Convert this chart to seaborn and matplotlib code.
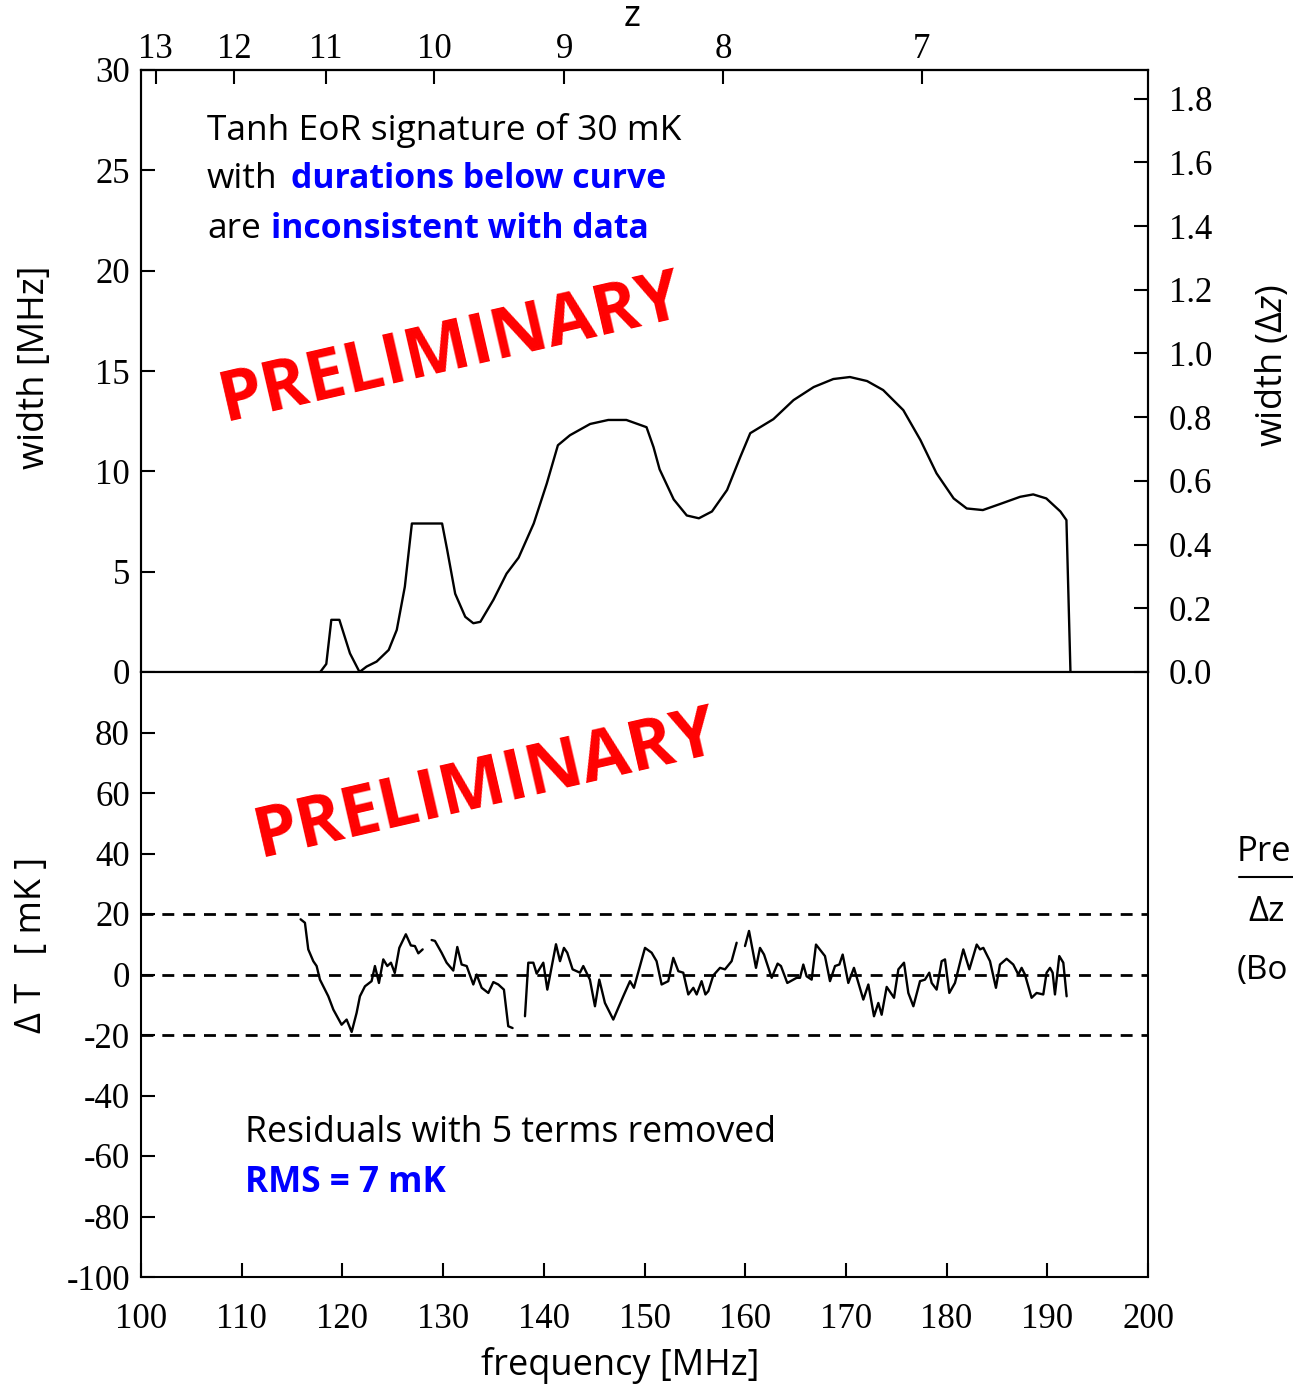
import numpy as np
import pandas as pd
import seaborn as sns
import matplotlib.pyplot as plt
from matplotlib.lines import Line2D

# top panel: minimum excluded tanh width vs frequency
width_freq = [117.8, 118.4, 118.9, 119.7, 120.75, 121.7, 122.4, 123.4, 124.6, 125.4,
              126.2, 126.9, 129.9, 130.4, 131.2, 132.2, 133.0, 133.7, 135.0, 136.3,
              137.5, 139.0, 140.3, 141.4, 142.6, 144.6, 146.4, 148.2, 150.2, 150.9,
              151.5, 152.9, 154.2, 155.4, 156.7, 158.2, 159.5, 160.5, 162.8, 164.8,
              166.8, 168.75, 170.4, 172.1, 173.7, 175.7, 177.4, 179.0, 180.7, 182.0,
              183.6, 185.3, 187.3, 188.6, 189.9, 191.3, 191.9, 192.3]
width_mhz = [0, 0.4, 2.6, 2.6, 0.93, 0, 0.27, 0.52, 1.1, 2.1,
             4.25, 7.4, 7.4, 6.1, 3.9, 2.75, 2.43, 2.5, 3.6, 4.9,
             5.7, 7.4, 9.4, 11.3, 11.8, 12.36, 12.56, 12.56, 12.2, 11.2,
             10.1, 8.6, 7.8, 7.66, 8.0, 9.07, 10.7, 11.9, 12.6, 13.55,
             14.2, 14.6, 14.7, 14.5, 14.05, 13.05, 11.56, 9.9, 8.65, 8.15,
             8.07, 8.37, 8.73, 8.85, 8.65, 8.0, 7.57, 0]

# bottom panel: residuals, in four pieces (gaps between them)
res_freq_a = [115.85, 116.28, 116.61, 117.11, 117.44, 117.77, 118.6, 119.1, 119.92, 120.42,
              120.92, 121.41, 121.74, 122.24, 122.9, 123.23, 123.63, 124.06, 124.46, 124.82,
              125.2, 125.65, 126.3, 126.8, 127.2, 127.54, 127.97]
res_mk_a = [18.25, 17.1, 8.3, 4.4, 2.8, -1.7, -7.2, -11.6, -16.6, -14.9,
            -19.0, -12.7, -7.2, -3.9, -2.2, 2.8, -2.8, 5.0, 2.8, 3.9,
            0.5, 8.8, 13.3, 9.6, 9.4, 7.0, 8.3]
res_freq_b = [128.86, 129.19, 129.85, 130.35, 131.01, 131.41, 131.84, 132.34, 133.0, 133.33,
              133.83, 134.49, 134.99, 135.48, 136.04, 136.47, 136.9]
res_mk_b = [11.4, 11.1, 7.2, 3.9, 1.3, 9.1, 3.3, 2.8, -3.3, 0.0,
            -4.4, -6.1, -2.5, -3.3, -5.0, -17.1, -17.7]
res_freq_c = [138.13, 138.46, 138.96, 139.29, 139.95, 140.35, 141.21, 141.61, 142.0, 142.33,
              142.86, 143.59, 143.92, 144.58, 145.08, 145.51, 146.07, 146.9, 147.89, 148.56,
              148.95, 150.05, 150.71, 151.2, 151.7, 152.36, 152.86, 153.36, 153.85, 154.35,
              154.85, 155.18, 155.67, 156.05, 156.34, 156.83, 157.5, 157.99, 158.65, 159.15]
res_mk_c = [-13.8, 3.9, 3.9, 0.3, 3.9, -5.0, 10.0, 4.4, 8.8, 7.2,
            1.7, 0.6, 2.8, -1.7, -10.5, -1.7, -9.4, -14.9, -7.2, -2.2,
            -4.4, 8.8, 7.2, 4.4, -3.3, -2.2, 5.5, 1.1, 0.6, -6.6,
            -4.4, -6.6, -2.2, -6.6, -5.5, -0.3, 2.2, 1.7, 4.4, 10.5]
res_freq_d = [159.98, 160.38, 161.07, 161.47, 161.87, 162.63, 163.22, 163.55, 164.18, 165.11,
              165.44, 165.77, 166.1, 166.6, 167.03, 167.92, 168.42, 168.92, 169.35, 169.68,
              170.24, 170.8, 171.73, 172.23, 172.79, 173.22, 173.55, 174.05, 174.78, 175.21,
              175.77, 176.2, 176.7, 177.36, 177.85, 178.28, 178.52, 179.01, 179.51, 179.84,
              180.27, 180.83, 181.66, 182.26, 182.99, 183.32, 183.65, 184.31, 184.9, 185.3,
              185.96, 186.62, 187.12, 187.45, 187.78, 188.44, 188.94, 189.6, 189.93, 190.27,
              190.53, 190.76, 191.19, 191.59, 191.92]
res_mk_d = [9.4, 14.4, 2.2, 8.8, 6.6, -1.1, 3.6, 2.8, -2.8, -1.1,
            -1.1, 3.3, -0.6, -1.7, 9.9, 6.1, -2.2, 2.8, 3.3, 6.6,
            -2.8, 2.2, -8.3, -3.3, -13.8, -9.4, -13.3, -4.1, -7.7, 1.7,
            3.9, -6.1, -10.5, -2.2, -1.7, 0.6, -2.8, -5.0, 4.4, 5.0,
            -6.1, -2.8, 8.3, 1.7, 9.9, 8.3, 8.8, 4.4, -4.4, 3.3,
            5.2, 3.3, 0.0, 2.2, 0.0, -7.7, -6.1, -6.6, 0.6, 2.2,
            0.6, -6.6, 6.1, 3.9, -7.2]

z_ticks = [13, 12, 11, 10, 9, 8, 7]
dz_ticks = [0.0, 0.2, 0.4, 0.6, 0.8, 1.0, 1.2, 1.4, 1.6, 1.8]
width_ticks = [0, 5, 10, 15, 20, 25, 30]
dt_ticks = [-100, -80, -60, -40, -20, 0, 20, 40, 60, 80]
freq_ticks = [100, 110, 120, 130, 140, 150, 160, 170, 180, 190, 200]
limit_lines = [20, 0, -20]
NU21 = 1420.4

sns.set_style("ticks")
plt.rcParams["font.family"] = ["Liberation Serif", "DejaVu Serif"]
plt.rcParams["mathtext.fontset"] = "custom"
plt.rcParams["mathtext.it"] = "Open Sans:italic"
plt.rcParams["mathtext.rm"] = "Open Sans"
plt.rcParams["axes.unicode_minus"] = False
plt.rcParams["axes.linewidth"] = 1.5
for key in ["text.color", "axes.labelcolor", "axes.edgecolor", "xtick.color", "ytick.color"]:
    plt.rcParams[key] = "black"
SANS = ["Open Sans", "DejaVu Sans"]
TICKFS = 25
LABFS = 26

fig = plt.figure(figsize=(12.93, 13.87), dpi=100)
W, H = 1293, 1387
ax1 = fig.add_axes([141 / W, 1 - 672 / H, 1007 / W, 602 / H])
ax2 = fig.add_axes([141 / W, 1 - 1277 / H, 1007 / W, 605 / H])

# --- top panel
top = pd.DataFrame({"freq": width_freq, "width": width_mhz})
sns.lineplot(data=top, x="freq", y="width", ax=ax1, color="black", lw=1.7,
             estimator=None, sort=False)
ax1.set_xlim(100, 200)
ax1.set_ylim(0, 30)
ax1.set_yticks(width_ticks)
ax1.set_xlabel("")
ax1.set_ylabel("")
ax1.tick_params(axis="x", bottom=False, labelbottom=False)
ax1.tick_params(axis="y", direction="in", length=10, width=1.5, labelsize=TICKFS, pad=8)

sec = ax1.secondary_xaxis("top", functions=(lambda f: NU21 / np.clip(f, 1e-3, None) - 1,
                                            lambda z: NU21 / np.clip(1 + z, 1e-3, None)))
sec.set_xticks(z_ticks)
sec.tick_params(direction="in", length=10, width=1.5, labelsize=TICKFS, pad=3)

ax1r = ax1.twinx()
ax1r.set_ylim(0, 1.89)
ax1r.set_yticks(dz_ticks)
ax1r.set_yticklabels([f"{v:.1f}" for v in dz_ticks])
ax1r.tick_params(axis="y", direction="in", length=10, width=1.5, labelsize=TICKFS, pad=15)

# --- bottom panel
pieces = [(res_freq_a, res_mk_a), (res_freq_b, res_mk_b),
          (res_freq_c, res_mk_c), (res_freq_d, res_mk_d)]
bottom = pd.concat([pd.DataFrame({"freq": f, "dt": v, "seg": i})
                    for i, (f, v) in enumerate(pieces)], ignore_index=True)
sns.lineplot(data=bottom, x="freq", y="dt", units="seg", estimator=None, ax=ax2,
             color="black", lw=1.7, sort=False)
for yv in limit_lines:
    ax2.axhline(yv, color="black", lw=2.0, dashes=(4.3, 3.2))
ax2.set_xlim(100, 200)
ax2.set_ylim(-100, 100)
ax2.set_yticks(dt_ticks)
ax2.set_xticks(freq_ticks)
ax2.set_xlabel("")
ax2.set_ylabel("")
ax2.tick_params(axis="y", direction="in", length=10, width=1.5, labelsize=TICKFS, pad=8)
ax2.tick_params(axis="x", direction="in", length=10, width=1.5, labelsize=TICKFS, pad=19)

# --- labels
fig.text(35 / W, 1 - 367 / H, "width [MHz]", rotation=90, ha="center", va="center",
         family=SANS, fontsize=LABFS)
fig.text(32 / W, 1 - 945 / H, "Δ T   [ mK ]", rotation=90, ha="center", va="center",
         family=SANS, fontsize=LABFS)
fig.text(620 / W, 1 - 1366 / H, "frequency [MHz]", ha="center", va="center",
         family=SANS, fontsize=LABFS)
fig.text(632 / W, 1 - 17 / H, "z", ha="center", va="center", family=SANS, fontsize=LABFS)
fig.text(1273 / W, 1 - 366 / H, r"width (Δ$z$)", rotation=90, ha="center", va="center",
         family=SANS, fontsize=LABFS)

# notes at the right edge
fig.text(1237 / W, 1 - 852 / H, "Pre", ha="left", va="center", family=SANS, fontsize=25)
fig.add_artist(Line2D([1239 / W, 1.0], [1 - 877 / H, 1 - 877 / H], color="black", lw=1.5))
fig.text(1248 / W, 1 - 912 / H, "Δz", ha="left", va="center", family=SANS, fontsize=25)
fig.text(1237 / W, 1 - 970 / H, "(Bo", ha="left", va="center", family=SANS, fontsize=24)

# --- annotations
fig.text(207 / W, 1 - 130 / H, "Tanh EoR signature of 30 mK", ha="left", va="center",
         family=SANS, fontsize=25.5)
fig.text(207 / W, 1 - 179 / H, "with", ha="left", va="center", family=SANS, fontsize=25.5)
fig.text(291 / W, 1 - 179 / H, "durations below curve", ha="left", va="center",
         family=SANS, fontsize=24.3, color="#0000FF", fontweight="bold")
fig.text(207 / W, 1 - 229 / H, "are", ha="left", va="center", family=SANS, fontsize=25.5)
fig.text(271 / W, 1 - 229 / H, "inconsistent with data", ha="left", va="center",
         family=SANS, fontsize=24.3, color="#0000FF", fontweight="bold")

fig.text(245 / W, 1 - 1133 / H, "Residuals with 5 terms removed", ha="left", va="center",
         family=SANS, fontsize=25.7)
fig.text(245 / W, 1 - 1183 / H, "RMS = 7 mK", ha="left", va="center", family=SANS,
         fontsize=25.3, color="#0000FF", fontweight="bold")

for cx, cy in [(451, 350), (486, 786)]:
    fig.text(cx / W, 1 - cy / H, "PRELIMINARY", rotation=13, ha="center", va="center",
             family=SANS, fontsize=50, fontweight="bold", color="#FF0000")

fig.savefig("out.png", dpi=100)
